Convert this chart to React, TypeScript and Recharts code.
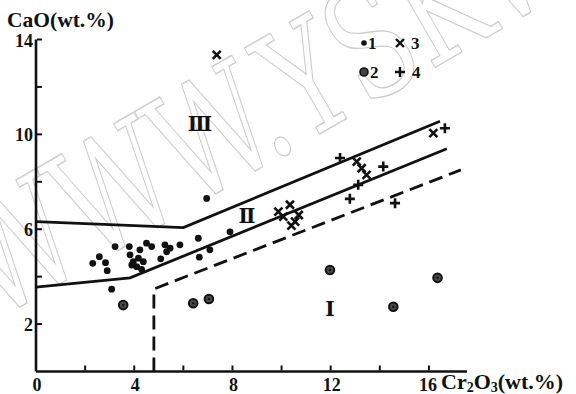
import React from "react";
import {
  ComposedChart,
  Line,
  Scatter,
  XAxis,
  YAxis,
} from "recharts";

// field boundaries (Cr2O3, CaO)
const upperBoundary = [
  { x: 0, y: 6.32 },
  { x: 6.0, y: 6.07 },
  { x: 16.45, y: 10.55 },
];
const middleBoundary = [
  { x: 0, y: 3.56 },
  { x: 3.83, y: 3.95 },
  { x: 16.73, y: 9.39 },
];
const dashedBoundary = [
  { x: 4.8, y: 0 },
  { x: 4.8, y: 3.48 },
  { x: 17.3, y: 8.5 },
];

// samples
const group1 = [
  { x: 3.22, y: 5.27 }, { x: 3.8, y: 5.27 }, { x: 2.58, y: 4.84 },
  { x: 2.31, y: 4.56 }, { x: 2.83, y: 4.59 }, { x: 2.9, y: 4.25 },
  { x: 3.83, y: 4.92 }, { x: 4.23, y: 5.13 }, { x: 4.5, y: 5.41 },
  { x: 4.71, y: 5.27 }, { x: 3.96, y: 4.63 }, { x: 4.1, y: 4.42 },
  { x: 4.3, y: 4.31 }, { x: 3.9, y: 4.49 }, { x: 4.17, y: 4.78 },
  { x: 4.37, y: 4.63 }, { x: 5.25, y: 5.34 }, { x: 5.46, y: 5.2 },
  { x: 5.32, y: 5.05 }, { x: 5.08, y: 4.75 }, { x: 5.86, y: 5.34 },
  { x: 6.61, y: 5.62 }, { x: 6.65, y: 4.82 }, { x: 7.08, y: 5.13 },
  { x: 7.9, y: 5.89 }, { x: 3.08, y: 3.47 }, { x: 6.95, y: 7.3 },
];
const group2 = [
  { x: 3.55, y: 2.8 }, { x: 6.4, y: 2.88 }, { x: 7.04, y: 3.06 },
  { x: 11.97, y: 4.28 }, { x: 14.55, y: 2.73 }, { x: 16.35, y: 3.95 },
];
const group3 = [
  { x: 7.36, y: 13.35 }, { x: 9.87, y: 6.74 }, { x: 10.34, y: 7.03 },
  { x: 10.07, y: 6.53 }, { x: 10.55, y: 6.32 }, { x: 10.7, y: 6.6 },
  { x: 10.4, y: 6.15 }, { x: 13.06, y: 8.85 }, { x: 13.26, y: 8.57 },
  { x: 13.46, y: 8.29 }, { x: 16.18, y: 10.05 },
];
const group4 = [
  { x: 12.38, y: 9.0 }, { x: 14.14, y: 8.64 }, { x: 13.12, y: 7.87 },
  { x: 12.78, y: 7.28 }, { x: 14.62, y: 7.1 }, { x: 16.65, y: 10.26 },
];

const xTicks = [0, 2, 4, 6, 8, 10, 12, 14, 16];
const xLabels = [0, 4, 8, 12, 16];
const yTicks = [2, 4, 6, 8, 10, 12, 14];
const yLabels = [2, 6, 10, 14];

const FONT = "'Liberation Serif', 'DejaVu Serif', serif";
const INK = "#111";

const XTick = (props: any) => {
  const { x, y, payload } = props;
  const v = payload.value;
  return (
    <g>
      {v !== 0 && <line x1={x} y1={y - 1} x2={x} y2={y - 6} stroke={INK} strokeWidth={2} />}
      {xLabels.includes(v) && (
        <text x={v === 16 ? x - 1 : x + 1} y={y + 19} textAnchor="middle" fontSize={18} fontWeight="bold" fontFamily={FONT} fill={INK}>
          {v}
        </text>
      )}
    </g>
  );
};

const YTick = (props: any) => {
  const { x, y, payload } = props;
  const v = payload.value;
  return (
    <g>
      <line x1={x + 1} y1={y} x2={x + 6} y2={y} stroke={INK} strokeWidth={2} />
      {yLabels.includes(v) && (
        <text x={x - 3} y={y + 7} textAnchor="end" fontSize={18} fontWeight="bold" fontFamily={FONT} fill={INK}>
          {v}
        </text>
      )}
    </g>
  );
};

const SmallDot = (p: any) => <circle cx={p.cx} cy={p.cy} r={3.4} fill={INK} />;
const RingDot = (p: any) => (
  <g>
    <circle cx={p.cx} cy={p.cy} r={4.3} fill="#4a4a4a" stroke={INK} strokeWidth={2} />
    <circle cx={p.cx} cy={p.cy} r={1.3} fill={INK} />
  </g>
);
const Cross = (p: any) => (
  <path
    d={`M${p.cx - 4},${p.cy - 4}L${p.cx + 4},${p.cy + 4}M${p.cx - 4},${p.cy + 4}L${p.cx + 4},${p.cy - 4}`}
    stroke={INK}
    strokeWidth={2.6}
  />
);
const Plus = (p: any) => (
  <path
    d={`M${p.cx - 5},${p.cy}L${p.cx + 5},${p.cy}M${p.cx},${p.cy - 5}L${p.cx},${p.cy + 5}`}
    stroke={INK}
    strokeWidth={2.6}
  />
);

const labelStyle = { fontFamily: FONT, fontWeight: "bold" as const, fill: INK };

export default function App() {
  return (
    <div style={{ position: "absolute", left: 0, top: 0, width: 576, height: 394, background: "#fff" }}>
      {/* faint scan watermark */}
      <svg width={576} height={394} style={{ position: "absolute", left: 0, top: 0 }}>
        <text
          transform="translate(-6,322) rotate(-30) scale(0.86,1.2)"
          fontSize={128}
          fontFamily="'DejaVu Serif', serif"
          fill="none"
          stroke="#cbcbcb"
          strokeWidth={1.1}
        >
          WWW.YSKW.COM
        </text>
      </svg>
      <div style={{ position: "absolute", left: 0, top: 0 }}>
        <ComposedChart
          width={576}
          height={394}
          margin={{ top: 39.5, right: 109, bottom: 21.5, left: 35 }}
        >
          <XAxis
            type="number"
            dataKey="x"
            domain={[0, 17.55]}
            ticks={xTicks}
            height={1}
            tickSize={0}
            tickMargin={0}
            tickLine={false}
            tick={<XTick />}
            axisLine={{ stroke: INK, strokeWidth: 2.6 }}
            interval={0}
          />
          <YAxis
            type="number"
            dataKey="y"
            domain={[0, 14]}
            ticks={yTicks}
            width={1}
            tickSize={0}
            tickMargin={0}
            tickLine={false}
            tick={<YTick />}
            axisLine={{ stroke: INK, strokeWidth: 2.6 }}
            interval={0}
          />
          <Line data={upperBoundary} dataKey="y" type="linear" stroke={INK} strokeWidth={2.8} dot={false} isAnimationActive={false} />
          <Line data={middleBoundary} dataKey="y" type="linear" stroke={INK} strokeWidth={2.8} dot={false} isAnimationActive={false} />
          <Line data={dashedBoundary} dataKey="y" type="linear" stroke={INK} strokeWidth={2.8} strokeDasharray="14 7" dot={false} isAnimationActive={false} />
          <Scatter data={group1} dataKey="y" shape={SmallDot} isAnimationActive={false} />
          <Scatter data={group2} dataKey="y" shape={RingDot} isAnimationActive={false} />
          <Scatter data={group3} dataKey="y" shape={Cross} isAnimationActive={false} />
          <Scatter data={group4} dataKey="y" shape={Plus} isAnimationActive={false} />
        </ComposedChart>
      </div>
      <svg width={576} height={394} style={{ position: "absolute", left: 0, top: 0, pointerEvents: "none" }}>
        <text x={7} y={27} fontSize={21.5} {...labelStyle}>CaO(wt.%)</text>
        <text x={441} y={389} fontSize={22} {...labelStyle}>
          Cr<tspan fontSize={14} dy={3}>2</tspan>
          <tspan dy={-3}>O</tspan>
          <tspan fontSize={14} dy={3}>3</tspan>
          <tspan dy={-3}>(wt.%)</tspan>
        </text>
        {/* field labels */}
        <text x={200} y={131} fontSize={20} textAnchor="middle" {...labelStyle}>Ⅲ</text>
        <text x={247} y={223} fontSize={20} textAnchor="middle" {...labelStyle}>Ⅱ</text>
        <text x={330} y={316} fontSize={20} textAnchor="middle" {...labelStyle}>Ⅰ</text>
        {/* legend */}
        <circle cx={364} cy={43} r={2.8} fill={INK} />
        <text x={368} y={49} fontSize={17} {...labelStyle}>1</text>
        <path d="M396,39L404,47M396,47L404,39" stroke={INK} strokeWidth={2.4} />
        <text x={411} y={49} fontSize={17} {...labelStyle}>3</text>
        <circle cx={364} cy={72} r={4} fill="#444" stroke={INK} strokeWidth={1.6} />
        <text x={370} y={78} fontSize={17} {...labelStyle}>2</text>
        <path d="M395,72L405,72M400,67L400,77" stroke={INK} strokeWidth={2.4} />
        <text x={412} y={78} fontSize={17} {...labelStyle}>4</text>
      </svg>
    </div>
  );
}
